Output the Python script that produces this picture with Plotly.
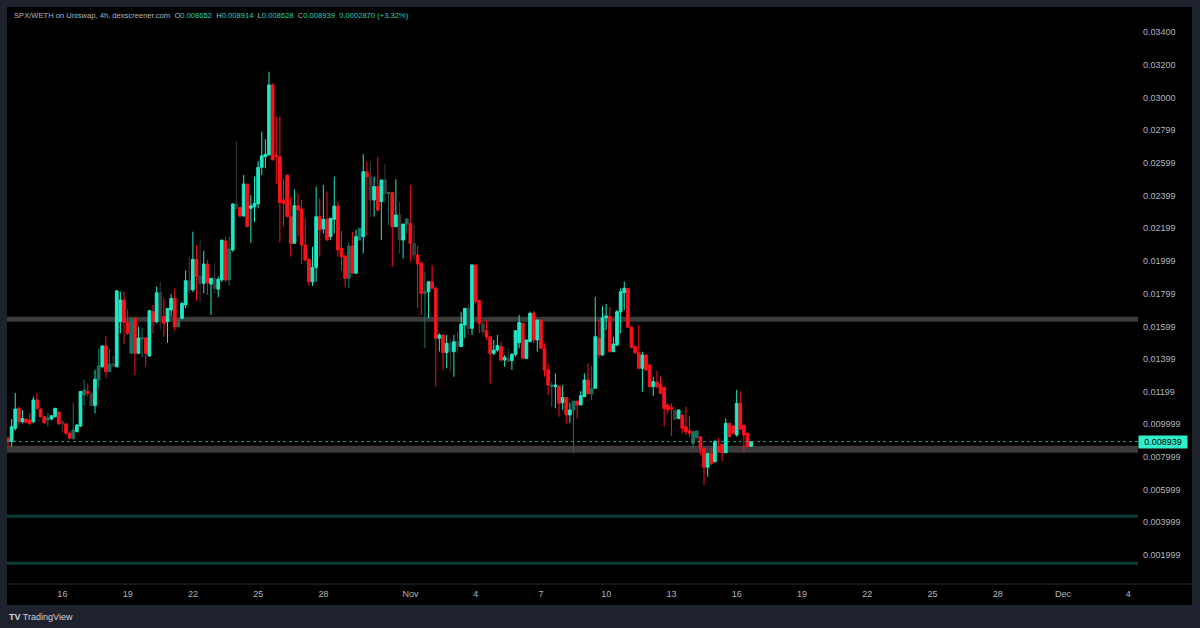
import pandas as pd
import plotly.graph_objects as go

# 4h candles SPX/WETH, first bar Oct 13 12:00
start = "2024-10-13 12:00"

opens = [
    0.00914, 0.00894, 0.00975, 0.01097, 0.01016, 0.01032, 0.01026, 0.01016, 0.01149, 0.01093,
    0.01046, 0.01026, 0.01032, 0.01046, 0.01075, 0.01016, 0.01002, 0.00945, 0.00914, 0.00955,
    0.00989, 0.01179, 0.01200, 0.01190, 0.01114, 0.01271, 0.01352, 0.01479, 0.01322, 0.01369,
    0.01352, 0.01628, 0.01760, 0.01624, 0.01434, 0.01648, 0.01434, 0.01522, 0.01528, 0.01418,
    0.01689, 0.01628, 0.01805, 0.01658, 0.01628, 0.01699, 0.01770, 0.01597, 0.01648, 0.01730,
    0.01878, 0.01822, 0.02009, 0.01907, 0.01862, 0.01980, 0.01858, 0.01893, 0.01826, 0.01883,
    0.02121, 0.01883, 0.02066, 0.02348, 0.02325, 0.02274, 0.02470, 0.02321, 0.02331, 0.02348,
    0.02572, 0.02637, 0.02647, 0.03076, 0.02647, 0.02637, 0.02372, 0.02525, 0.02270, 0.02107,
    0.02337, 0.02317, 0.02097, 0.02011, 0.01872, 0.01960, 0.02270, 0.02195, 0.02254, 0.02148,
    0.02254, 0.02335, 0.02077, 0.02030, 0.01893, 0.02091, 0.01924, 0.02127, 0.02148, 0.02545,
    0.02515, 0.02372, 0.02454, 0.02362, 0.02495, 0.02413, 0.02417, 0.02209, 0.02280, 0.02127,
    0.02225, 0.02229, 0.02107, 0.02036, 0.01985, 0.01801, 0.01811, 0.01872, 0.01832, 0.01526,
    0.01546, 0.01438, 0.01495, 0.01444, 0.01505, 0.01475, 0.01607, 0.01709, 0.01587, 0.01975,
    0.01756, 0.01618, 0.01572, 0.01536, 0.01434, 0.01454, 0.01475, 0.01393, 0.01404, 0.01389,
    0.01428, 0.01499, 0.01618, 0.01404, 0.01505, 0.01679, 0.01516, 0.01638, 0.01465, 0.01332,
    0.01230, 0.01230, 0.01234, 0.01132, 0.01163, 0.01057, 0.01087, 0.01142, 0.01118, 0.01169,
    0.01271, 0.01185, 0.01220, 0.01526, 0.01424, 0.01652, 0.01658, 0.01444, 0.01485, 0.01689,
    0.01805, 0.01832, 0.01593, 0.01475, 0.01438, 0.01342, 0.01424, 0.01363, 0.01230, 0.01257,
    0.01244, 0.01226, 0.01118, 0.01104, 0.01087, 0.01036, 0.01057, 0.00985, 0.00961, 0.00883,
    0.00918, 0.00924, 0.00853, 0.00737, 0.00822, 0.00771, 0.00863, 0.00877, 0.00826, 0.01006,
    0.00989, 0.00934, 0.01128, 0.00995, 0.00945, 0.008652,
]
highs = [
    0.00924, 0.01032, 0.01192, 0.01107, 0.01087, 0.01036, 0.01069, 0.01169, 0.01192, 0.01097,
    0.01050, 0.01071, 0.01056, 0.01101, 0.01079, 0.01026, 0.01006, 0.00961, 0.01131, 0.01002,
    0.01204, 0.01275, 0.01250, 0.01194, 0.01332, 0.01464, 0.01483, 0.01540, 0.01461, 0.01418,
    0.01822, 0.01811, 0.01811, 0.01704, 0.01650, 0.01652, 0.01597, 0.01589, 0.01532, 0.01699,
    0.01730, 0.01842, 0.01872, 0.01770, 0.01709, 0.01797, 0.01832, 0.01646, 0.01746, 0.01940,
    0.02025, 0.02178, 0.02097, 0.02127, 0.02062, 0.02005, 0.01893, 0.01985, 0.01903, 0.02127,
    0.02148, 0.02148, 0.02352, 0.02733, 0.02331, 0.02525, 0.02470, 0.02403, 0.02515, 0.02611,
    0.02790, 0.02744, 0.03157, 0.03086, 0.02882, 0.02882, 0.02505, 0.02525, 0.02392, 0.02438,
    0.02413, 0.02372, 0.02260, 0.02011, 0.02086, 0.02454, 0.02383, 0.02464, 0.02423, 0.02260,
    0.02515, 0.02362, 0.02183, 0.02030, 0.02111, 0.02178, 0.02189, 0.02199, 0.02652, 0.02606,
    0.02606, 0.02515, 0.02637, 0.02495, 0.02592, 0.02423, 0.02423, 0.02499, 0.02362, 0.02225,
    0.02260, 0.02464, 0.02219, 0.02091, 0.01995, 0.01934, 0.01872, 0.01975, 0.01842, 0.01557,
    0.01546, 0.01546, 0.01526, 0.01546, 0.01566, 0.01689, 0.01709, 0.01736, 0.01981, 0.01975,
    0.01756, 0.01628, 0.01638, 0.01536, 0.01516, 0.01546, 0.01505, 0.01424, 0.01465, 0.01434,
    0.01577, 0.01669, 0.01618, 0.01516, 0.01689, 0.01693, 0.01638, 0.01638, 0.01495, 0.01369,
    0.01261, 0.01312, 0.01234, 0.01240, 0.01163, 0.01132, 0.01142, 0.01142, 0.01204, 0.01312,
    0.01373, 0.01357, 0.01780, 0.01638, 0.01724, 0.01736, 0.01716, 0.01536, 0.01699, 0.01832,
    0.01872, 0.01832, 0.01597, 0.01481, 0.01607, 0.01444, 0.01430, 0.01369, 0.01291, 0.01326,
    0.01291, 0.01226, 0.01128, 0.01128, 0.01087, 0.01091, 0.01057, 0.01107, 0.01052, 0.00955,
    0.00961, 0.00924, 0.00853, 0.00822, 0.00853, 0.00904, 0.00914, 0.00877, 0.01036, 0.01010,
    0.00995, 0.01210, 0.01200, 0.00995, 0.00950, 0.008939,
]
lows = [
    0.00860, 0.00863, 0.00961, 0.01002, 0.01006, 0.01006, 0.00995, 0.01006, 0.01087, 0.01042,
    0.01002, 0.00985, 0.01026, 0.01042, 0.00998, 0.00948, 0.00934, 0.00908, 0.00904, 0.00951,
    0.00985, 0.01118, 0.01169, 0.01107, 0.01067, 0.01220, 0.01342, 0.01281, 0.01322, 0.01352,
    0.01348, 0.01557, 0.01491, 0.01546, 0.01430, 0.01301, 0.01430, 0.01410, 0.01352, 0.01414,
    0.01557, 0.01618, 0.01581, 0.01536, 0.01499, 0.01658, 0.01572, 0.01593, 0.01640, 0.01709,
    0.01801, 0.01809, 0.01756, 0.01750, 0.01801, 0.01791, 0.01669, 0.01801, 0.01777, 0.01872,
    0.01872, 0.01846, 0.02056, 0.02321, 0.02270, 0.02274, 0.02209, 0.02111, 0.02236, 0.02321,
    0.02525, 0.02566, 0.02647, 0.02617, 0.02470, 0.02111, 0.02209, 0.02270, 0.02025, 0.02107,
    0.02152, 0.01981, 0.01995, 0.01848, 0.01846, 0.01872, 0.02025, 0.02168, 0.02127, 0.02127,
    0.02168, 0.02025, 0.01940, 0.01842, 0.01832, 0.01924, 0.01924, 0.02127, 0.02046, 0.02152,
    0.02270, 0.02270, 0.02301, 0.02127, 0.02352, 0.02219, 0.01964, 0.02205, 0.02046, 0.02015,
    0.02168, 0.01995, 0.02005, 0.01709, 0.01669, 0.01465, 0.01648, 0.01832, 0.01230, 0.01444,
    0.01332, 0.01342, 0.01322, 0.01291, 0.01434, 0.01475, 0.01526, 0.01546, 0.01546, 0.01740,
    0.01557, 0.01546, 0.01516, 0.01250, 0.01424, 0.01444, 0.01383, 0.01352, 0.01383, 0.01332,
    0.01414, 0.01465, 0.01404, 0.01398, 0.01505, 0.01495, 0.01444, 0.01465, 0.01291, 0.01179,
    0.01107, 0.01097, 0.01046, 0.01087, 0.01006, 0.01010, 0.00822, 0.01036, 0.01118, 0.01169,
    0.01185, 0.01149, 0.01220, 0.01404, 0.01418, 0.01577, 0.01438, 0.01444, 0.01479, 0.01557,
    0.01699, 0.01593, 0.01465, 0.01430, 0.01342, 0.01199, 0.01326, 0.01224, 0.01173, 0.01220,
    0.01185, 0.00985, 0.01067, 0.00928, 0.01026, 0.01030, 0.00945, 0.00934, 0.00924, 0.00847,
    0.00914, 0.00812, 0.00628, 0.00679, 0.00751, 0.00765, 0.00826, 0.00775, 0.00826, 0.00920,
    0.00940, 0.00924, 0.00969, 0.00826, 0.00860, 0.008628,
]
closes = [
    0.00894, 0.00985, 0.01093, 0.01016, 0.01036, 0.01012, 0.01006, 0.01149, 0.01097, 0.01046,
    0.01010, 0.01040, 0.01052, 0.01097, 0.01002, 0.01002, 0.00945, 0.00914, 0.00965, 0.00995,
    0.01200, 0.01210, 0.01190, 0.01114, 0.01275, 0.01358, 0.01479, 0.01322, 0.01369, 0.01356,
    0.01816, 0.01760, 0.01622, 0.01557, 0.01648, 0.01434, 0.01528, 0.01528, 0.01434, 0.01695,
    0.01628, 0.01805, 0.01628, 0.01618, 0.01709, 0.01770, 0.01597, 0.01642, 0.01740, 0.01878,
    0.01822, 0.02009, 0.01903, 0.01862, 0.01980, 0.01866, 0.01893, 0.01832, 0.01887, 0.02127,
    0.01883, 0.02072, 0.02348, 0.02321, 0.02274, 0.02470, 0.02209, 0.02337, 0.02352, 0.02572,
    0.02643, 0.02652, 0.03076, 0.02617, 0.02637, 0.02356, 0.02352, 0.02270, 0.02107, 0.02337,
    0.02311, 0.02097, 0.02005, 0.01872, 0.01960, 0.02270, 0.02189, 0.02254, 0.02127, 0.02260,
    0.02335, 0.02066, 0.02025, 0.01893, 0.02091, 0.01924, 0.02148, 0.02199, 0.02545, 0.02515,
    0.02372, 0.02454, 0.02311, 0.02495, 0.02413, 0.02417, 0.02209, 0.02280, 0.02127, 0.02225,
    0.02256, 0.02107, 0.02036, 0.01981, 0.01801, 0.01811, 0.01872, 0.01832, 0.01526, 0.01546,
    0.01438, 0.01495, 0.01444, 0.01505, 0.01475, 0.01613, 0.01709, 0.01587, 0.01975, 0.01750,
    0.01618, 0.01566, 0.01536, 0.01434, 0.01454, 0.01481, 0.01393, 0.01410, 0.01383, 0.01428,
    0.01572, 0.01622, 0.01404, 0.01516, 0.01679, 0.01516, 0.01638, 0.01465, 0.01332, 0.01240,
    0.01240, 0.01240, 0.01128, 0.01163, 0.01057, 0.01087, 0.01142, 0.01118, 0.01175, 0.01271,
    0.01185, 0.01220, 0.01536, 0.01424, 0.01652, 0.01662, 0.01444, 0.01491, 0.01689, 0.01811,
    0.01832, 0.01593, 0.01471, 0.01438, 0.01342, 0.01424, 0.01332, 0.01230, 0.01261, 0.01230,
    0.01189, 0.01097, 0.01087, 0.01093, 0.01030, 0.01087, 0.00975, 0.00955, 0.00945, 0.00955,
    0.00959, 0.00853, 0.00737, 0.00822, 0.00761, 0.00894, 0.00833, 0.00826, 0.01006, 0.00924,
    0.00945, 0.01128, 0.00969, 0.00934, 0.00863, 0.008939,
]

# candles that show up dimmed on the chart
faded = [11, 15, 18, 21, 23, 25, 28, 29, 34, 37, 42, 47, 50, 53, 57, 61, 63, 94, 97, 100,
         104, 105, 108, 110, 112, 115, 122, 124, 127, 131, 138, 150, 156, 161, 184, 189, 190]

# horizontal levels
grey_levels = [0.01642, 0.00847]
teal_levels = [0.00437, 0.00149]
last_price = 0.008939

price_ticks = [0.034, 0.032, 0.030, 0.02799, 0.02599, 0.02399, 0.02199, 0.01999, 0.01799,
               0.01599, 0.01399, 0.01199, 0.009999, 0.007999, 0.005999, 0.003999, 0.001999]
price_labels = ["0.03400", "0.03200", "0.03000", "0.02799", "0.02599", "0.02399", "0.02199",
                "0.01999", "0.01799", "0.01599", "0.01399", "0.01199", "0.009999", "0.007999",
                "0.005999", "0.003999", "0.001999"]
date_ticks = ["2024-10-16", "2024-10-19", "2024-10-22", "2024-10-25", "2024-10-28", "2024-11-01",
              "2024-11-04", "2024-11-07", "2024-11-10", "2024-11-13", "2024-11-16", "2024-11-19",
              "2024-11-22", "2024-11-25", "2024-11-28", "2024-12-01", "2024-12-04"]
date_labels = ["16", "19", "22", "25", "28", "Nov", "4", "7", "10", "13", "16", "19", "22",
               "25", "28", "Dec", "4"]

times = pd.date_range(start, periods=len(closes), freq="4h")

UP = "#1fe8c4"
DOWN = "#f7131c"
FRAME = "#1e222d"
TXT = "#b2b5be"

fig = go.Figure()


def pick(seq, keep):
    return [v for i, v in enumerate(seq) if (i in faded) == keep]


for keep, up_col, dn_col in [(True, "#187060", "#3c3c3c"), (False, UP, DOWN)]:
    fig.add_trace(go.Candlestick(
        x=pick(times, keep), open=pick(opens, keep), high=pick(highs, keep),
        low=pick(lows, keep), close=pick(closes, keep),
        increasing=dict(line=dict(color=up_col, width=1), fillcolor=up_col),
        decreasing=dict(line=dict(color=dn_col, width=1), fillcolor=dn_col),
        whiskerwidth=0, showlegend=False, hoverinfo="skip",
    ))

shapes = [
    # black chart panel incl. both axes
    dict(type="rect", xref="paper", yref="paper", x0=0, x1=1.0477, y0=-0.0364, y1=1,
         fillcolor="#000000", line_width=0, layer="below"),
    dict(type="line", xref="paper", yref="paper", x0=0, x1=1.0477, y0=0, y1=0,
         line=dict(color="#2a2e39", width=1)),
]
for lv in grey_levels:
    shapes.append(dict(type="line", xref="paper", x0=0, x1=1, y0=lv, y1=lv,
                       line=dict(color="#3b3b3b", width=7 if lv < 0.01 else 5), layer="below"))
for lv in teal_levels:
    shapes.append(dict(type="line", xref="paper", x0=0, x1=1, y0=lv, y1=lv,
                       line=dict(color="#0b3d35", width=3), layer="below"))
shapes.append(dict(type="line", xref="paper", x0=0, x1=1, y0=last_price, y1=last_price,
                   line=dict(color="#17a58c", width=1, dash="dot")))

nb = "\u00a0"
val = lambda s: f"<span style='color:#22d6b4'>{s}</span>"
header = (f"SPX/WETH on Uniswap, 4h, dexscreener.com{nb*2}O{val('0.008652')}{nb*2}"
          f"H{val('0.008914')}{nb*2}L{val('0.008628')}{nb*2}C{val('0.008939')}{nb*2}"
          f"{val('0.0002870 (+3.32%)')}")

fig.update_layout(
    width=1200, height=628,
    margin=dict(l=7, r=62, t=7, b=44),
    paper_bgcolor=FRAME, plot_bgcolor="#000000",
    font=dict(family="Liberation Sans, Arial, sans-serif", color=TXT, size=9),
    boxgap=0.25, boxgroupgap=0,
    shapes=shapes,
    xaxis=dict(type="date", range=["2024-10-13 10:54", "2024-12-04 10:50"],
               tickvals=date_ticks, ticktext=date_labels, showgrid=False, zeroline=False,
               rangeslider=dict(visible=False), ticks="", tickfont=dict(size=9, color=TXT),
               ticklabelstandoff=3, fixedrange=True),
    yaxis=dict(side="right", range=[0.000226, 0.03553], tickvals=price_ticks,
               ticktext=price_labels, showgrid=False, zeroline=False, ticks="",
               ticklabelstandoff=4, tickfont=dict(size=9, color=TXT)),
    annotations=[
        dict(xref="paper", yref="paper", x=0.0044, y=0.986, xanchor="left", yanchor="middle",
             text=header, showarrow=False, font=dict(size=7.6, color=TXT)),
        dict(xref="paper", yref="y", x=1.0, y=last_price, xanchor="left", yanchor="middle",
             text="0.008939", showarrow=False, bgcolor="#2ff0cc", borderpad=1, width=46,
             font=dict(size=9, color="#000000")),
        dict(xref="paper", yref="paper", x=0.0, y=-0.058, xanchor="left", yanchor="middle",
             text="<b>TV</b> TradingView", showarrow=False, font=dict(size=9, color="#d1d4dc")),
    ],
)

# drop the default page margin so the figure fills the window
fig.write_html("out.html", config={"displayModeBar": False},
               post_script="document.body.style.margin='0';")
